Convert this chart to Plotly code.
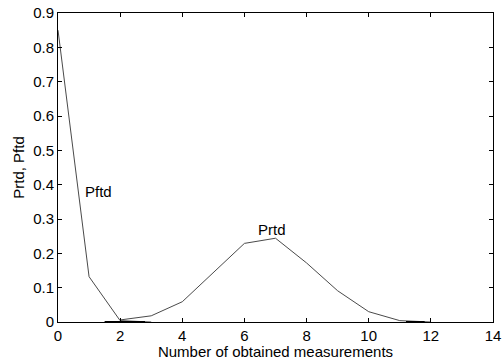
import plotly.graph_objects as go

# data
pftd_x = [0, 1, 2, 3]
pftd_y = [0.85, 0.132, 0.004, 0.0]
prtd_x = [2, 3, 4, 5, 6, 7, 8, 9, 10, 11, 12]
prtd_y = [0.006, 0.018, 0.059, 0.145, 0.229, 0.244, 0.172, 0.091, 0.030, 0.004, 0.0]
tail_a_x = [1.5, 2.8]
tail_a_y = [0.0, 0.0]
tail_b_x = [11.2, 11.8]
tail_b_y = [0.0, 0.0]
x_ticks = [0, 2, 4, 6, 8, 10, 12, 14]
y_ticks = [0, 0.1, 0.2, 0.3, 0.4, 0.5, 0.6, 0.7, 0.8, 0.9]
y_tick_text = ["0", "0.1", "0.2", "0.3", "0.4", "0.5", "0.6", "0.7", "0.8", "0.9"]
labels = [("Pftd", 1.3, 0.38), ("Prtd", 6.9, 0.27)]

fig = go.Figure()
line_color = "#4a4a4a"
fig.add_trace(go.Scatter(x=pftd_x, y=pftd_y, mode="lines",
                         line=dict(color=line_color, width=1), showlegend=False))
fig.add_trace(go.Scatter(x=prtd_x, y=prtd_y, mode="lines",
                         line=dict(color=line_color, width=1), showlegend=False))
for tx, ty in [(tail_a_x, tail_a_y), (tail_b_x, tail_b_y)]:
    fig.add_trace(go.Scatter(x=tx, y=ty, mode="lines",
                             line=dict(color="black", width=2), showlegend=False))

font = dict(family="Liberation Sans, Arial", size=15, color="black")
for txt, lx, ly in labels:
    fig.add_annotation(x=lx, y=ly, text=txt, showarrow=False, font=font)

fig.update_layout(
    width=503, height=360,
    margin=dict(l=58, r=10, t=13, b=38),
    paper_bgcolor="white", plot_bgcolor="white",
    font=font,
    xaxis=dict(range=[0, 14], tickvals=x_ticks, ticks="inside", ticklen=4,
               tickcolor="black", showline=True, linecolor="black", linewidth=1,
               mirror="ticks", showgrid=False, zeroline=False, automargin=False,
               title=dict(text="Number of obtained measurements", font=font, standoff=0),
               tickfont=font),
    yaxis=dict(range=[0, 0.9], tickvals=y_ticks, ticktext=y_tick_text,
               ticks="inside", ticklen=4, tickcolor="black", showline=True,
               linecolor="black", linewidth=1, mirror="ticks", showgrid=False,
               zeroline=False, automargin=False,
               title=dict(text="Prtd, Pftd", font=font, standoff=4),
               tickfont=font),
)

fig.write_html("out.html")
